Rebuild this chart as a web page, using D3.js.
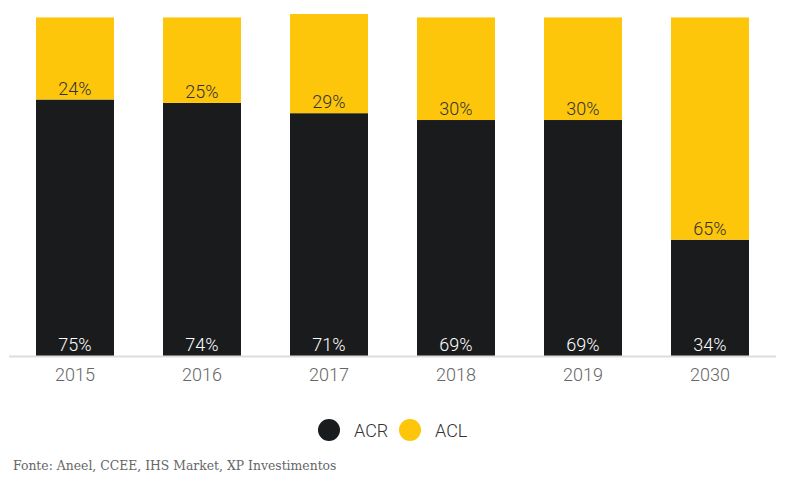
<!DOCTYPE html>
<html><head><meta charset="utf-8">
<script src="https://cdn.jsdelivr.net/npm/d3@7"></script>
<style>body{margin:0;background:#fff}svg{display:block}</style>
</head><body>
<svg id="c" width="785" height="494"></svg>
<script>
const years = ["2015","2016","2017","2018","2019","2030"];
const acr = [75,74,71,69,69,34];
const acl = [24,25,29,30,30,65];
const seriesNames = ["ACR","ACL"];
const colors = ["#1a1b1d","#fdc60b"];
const source = "Fonte: Aneel, CCEE, IHS Market, XP Investimentos";

const svg = d3.select("#c");
const x = d3.scaleBand().domain(years).range([11.5,773.5]).paddingInner(0.386).paddingOuter(0.193);
const y = d3.scaleLinear().domain([0,100]).range([356,14]);

const g = svg.append("g");
years.forEach((yr,i)=>{
  const x0 = x(yr), w = x.bandwidth();
  g.append("rect").attr("x",x0).attr("width",w)
    .attr("y",y(acr[i])).attr("height",y(0)-y(acr[i])).attr("fill",colors[0]);
  g.append("rect").attr("x",x0).attr("width",w)
    .attr("y",y(acr[i]+acl[i])).attr("height",y(acr[i])-y(acr[i]+acl[i])).attr("fill",colors[1]);
  g.append("text").attr("x",x0+w/2).attr("y",y(0)-5).attr("text-anchor","middle")
    .attr("font-family","Roboto").attr("font-size",18).attr("font-weight",300).attr("fill","#fff").text(acr[i]+"%");
  g.append("text").attr("x",x0+w/2).attr("y",y(acr[i])-5).attr("text-anchor","middle")
    .attr("font-family","Roboto").attr("font-size",18).attr("font-weight",300).attr("fill","#333").text(acl[i]+"%");
});

// axis
const ax = svg.append("g").attr("transform","translate(0,356)").call(d3.axisBottom(x).tickSize(0).tickPadding(12));
ax.select(".domain").attr("stroke","#ddd").attr("stroke-width",2).attr("d","M9,0.5H776");
ax.selectAll("text").attr("font-family","Roboto").attr("font-size",18).attr("font-weight",300).attr("fill","#666");

// legend
const leg = svg.append("g");
const lx = [329,410];
seriesNames.forEach((n,i)=>{
  leg.append("circle").attr("cx",lx[i]).attr("cy",430).attr("r",11).attr("fill",colors[i]);
  leg.append("text").attr("x",lx[i]+25).attr("y",437).attr("font-family","Roboto").attr("font-size",18)
    .attr("font-weight",300).attr("fill","#333").text(n);
});

svg.append("text").attr("x",13).attr("y",470).attr("font-family","DejaVu Serif").attr("font-size",12.4)
  .attr("fill","#666").text(source);
</script>
</body></html>
